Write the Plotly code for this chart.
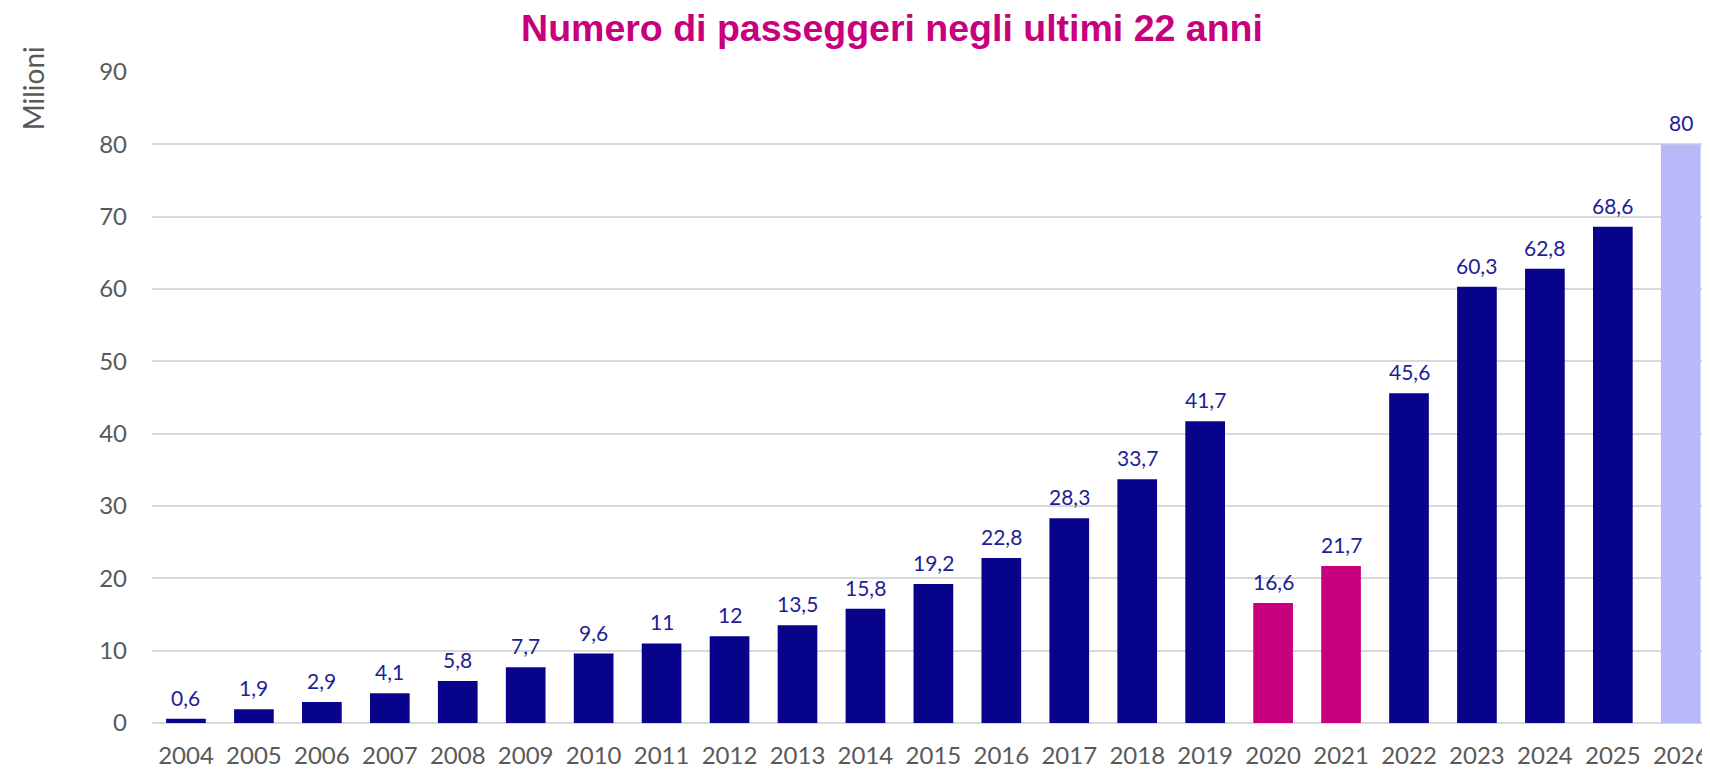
import plotly.graph_objects as go

years = ["2004", "2005", "2006", "2007", "2008", "2009", "2010", "2011", "2012", "2013",
         "2014", "2015", "2016", "2017", "2018", "2019", "2020", "2021", "2022", "2023",
         "2024", "2025", "2026"]
passengers = [0.6, 1.9, 2.9, 4.1, 5.8, 7.7, 9.6, 11, 12, 13.5, 15.8, 19.2, 22.8, 28.3,
              33.7, 41.7, 16.6, 21.7, 45.6, 60.3, 62.8, 68.6, 80]
covid_years = ["2020", "2021"]
forecast_years = ["2026"]
y_ticks = [0, 10, 20, 30, 40, 50, 60, 70, 80, 90]

NAVY = "#07048B"
MAGENTA = "#C8007E"
LAVENDER = "#B9B9FA"
LABEL = "#1E1E96"
GREY = "#595959"
GRID = "#D9D9D9"

colors = [MAGENTA if y in covid_years else LAVENDER if y in forecast_years else NAVY for y in years]
labels = [f"{v:g}".replace(".", ",") for v in passengers]

W, H = 1702, 764   # page body has an 8px margin
fig = go.Figure()
fig.add_trace(go.Bar(x=years, y=passengers, marker=dict(color=colors, line=dict(width=0)),
                     hoverinfo="x+y"))

for i, (v, t) in enumerate(zip(passengers, labels)):
    fig.add_annotation(x=i, y=v, xref="x", yref="y", text=t, showarrow=False,
                       yanchor="bottom", yshift=7,
                       font=dict(family="Lato", size=21, color=LABEL))

fig.add_annotation(xref="paper", yref="paper", x=-0.0764, y=0.975, text="Milioni",
                   textangle=-90, showarrow=False, xanchor="center", yanchor="middle",
                   font=dict(family="Lato", size=28, color=GREY))

fig.update_layout(
    width=W, height=H,
    margin=dict(l=144, r=0, t=64, b=49, autoexpand=False),
    paper_bgcolor="white", plot_bgcolor="white",
    bargap=0.416,
    showlegend=False,
    title=dict(text="<b>Numero di passeggeri negli ultimi 22 anni</b>",
               x=(892 - 8) / W, xanchor="center", xref="container",
               y=1 - (28 - 8) / H, yanchor="middle", yref="container",
               font=dict(family="Liberation Sans, Arial", size=37.5, color=MAGENTA)),
    xaxis=dict(type="category", range=[-0.5, 22.43], showgrid=False, showline=False,
               ticks="", tickfont=dict(family="Lato", size=24, color=GREY),
               ticklabelstandoff=16, fixedrange=True),
    yaxis=dict(range=[0, 90], tickvals=y_ticks, showgrid=True, gridcolor=GRID, gridwidth=1.5,
               zeroline=True, zerolinecolor=GRID, zerolinewidth=1.5, showline=False,
               ticks="", tickfont=dict(family="Lato", size=24, color=GREY),
               ticklabelstandoff=24, fixedrange=True),
)

fig.write_html("out.html")
